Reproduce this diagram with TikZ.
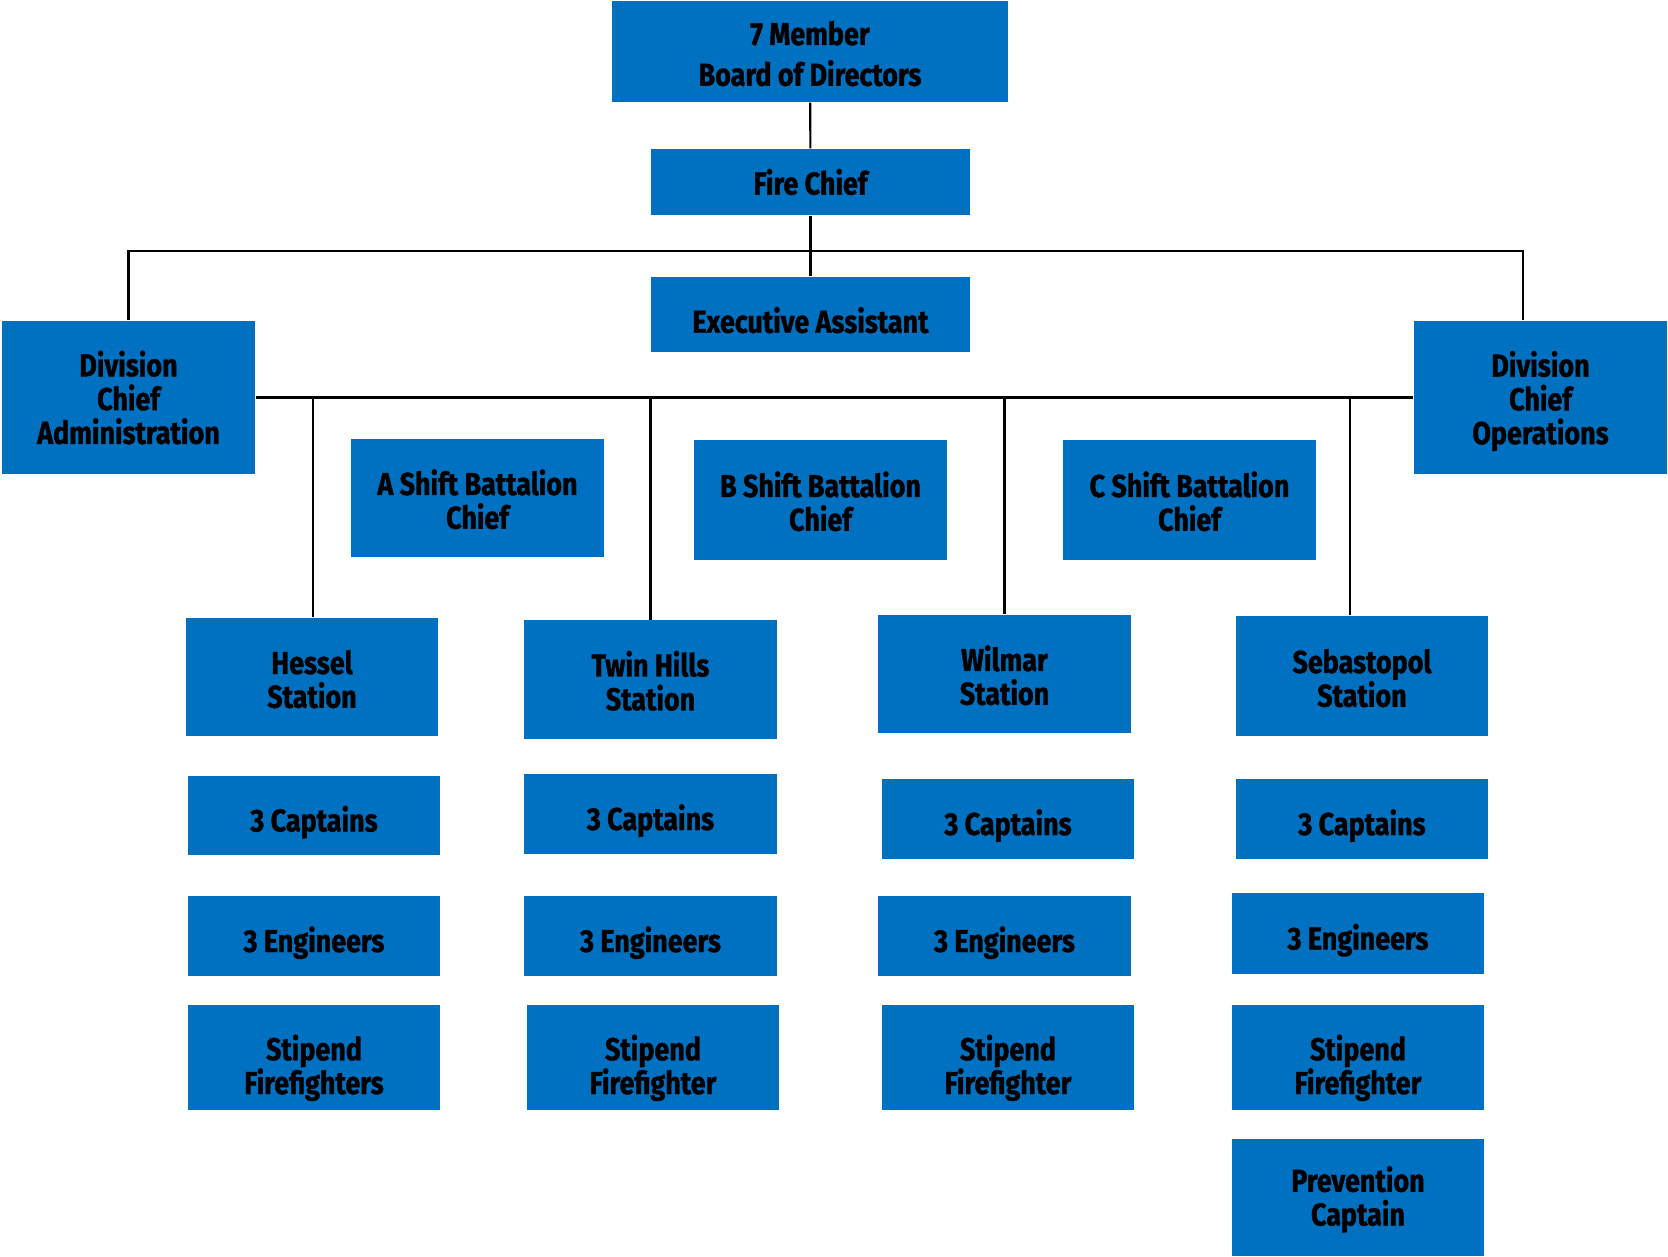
\documentclass[tikz,border=0pt]{standalone}
\usepackage{fontspec}
\setmainfont{Fira Sans}[FakeStretch=0.85, BoldFeatures={FakeBold=1.2}]
\usepackage{tikz}
\usetikzlibrary{positioning, calc}
\definecolor{boxblue}{HTML}{0070C0}

\begin{document}
\begin{tikzpicture}[
    x=0.01cm, y=-0.01cm,
    box/.style={fill=boxblue, text=black, align=center, inner sep=0pt,
        font=\fontsize{9}{9.6}\selectfont\bfseries, minimum width=2.52cm},
    sink/.style={execute at begin node={\rule{0pt}{#1}}},
    cell/.style={box, minimum height=1.18cm, sink=0.62cm},
    rank/.style={box, minimum height=0.79cm, sink=0.39cm},
    stipend/.style={box, minimum height=1.05cm, sink=0.8cm},
    link/.style={line width=0.6pt, draw=black},
]
\useasboundingbox (0,0) rectangle (1668,1257);

% top of the chart
\node[box, minimum width=3.96cm, minimum height=1.01cm, sink=0.69cm] (board) at (810,51.5) {7 Member\\[2pt]Board of Directors};
\node[box, minimum width=3.19cm, minimum height=0.66cm] (fire) at (810.5,182) {Fire Chief};
\node[box, minimum width=3.19cm, minimum height=0.75cm, sink=0.37cm] (exec) at (810.5,314.5) {Executive Assistant};
\node[box, minimum width=2.53cm, minimum height=1.53cm] (divadmin) at (128.5,397.5) {Division\\Chief\\Administration};
\node[box, minimum width=2.53cm, minimum height=1.53cm] (divops) at (1540.5,397.5) {Division\\Chief\\\smash{Operations}};

% battalion chiefs
\node[cell] (ashift) at (477.5,498) {A Shift Battalion\\Chief};
\node[cell, minimum height=1.2cm] (bshift) at (820.5,500) {B Shift Battalion\\Chief};
\node[cell, minimum height=1.2cm] (cshift) at (1189.5,500) {C Shift Battalion\\Chief};

% stations
\node[cell] (hessel) at (312,677) {Hessel\\Station};
\node[cell] (twin) at (650.5,679.5) {Twin Hills\\Station};
\node[cell] (wilmar) at (1004.5,674) {Wilmar\\Station};
\node[cell, minimum height=1.2cm] (sebast) at (1362,676) {Sebastopol\\Station};

% crews
\node[rank] (capA) at (314,815.5) {3 Captains};
\node[rank] (capB) at (650.5,814) {3 Captains};
\node[rank] (capC) at (1008,819) {3 Captains};
\node[rank] (capD) at (1362,819) {3 Captains};
\node[rank, minimum height=0.8cm] (engA) at (314,936) {3 Engineers};
\node[rank, minimum height=0.8cm] (engB) at (650.5,936) {3 Engineers};
\node[rank, minimum height=0.8cm] (engC) at (1004.5,936) {3 Engineers};
\node[rank, minimum height=0.81cm] (engD) at (1358,933.5) {3 Engineers};
\node[stipend] (stipA) at (314,1057.5) {Stipend\\Firefighters};
\node[stipend] (stipB) at (653,1057.5) {Stipend\\Firefighter};
\node[stipend] (stipC) at (1008,1057.5) {Stipend\\Firefighter};
\node[stipend] (stipD) at (1358,1057.5) {Stipend\\Firefighter};
\node[box, minimum height=1.17cm, sink=0.63cm] (prevent) at (1358,1197.5) {Prevention\\Captain};

% connectors
\coordinate (opsjoin) at (1523,251);
\draw[link] (board) -- (fire);
\draw[link] (fire) -- (exec);
\draw[link] (divadmin.north) |- (opsjoin) -- (opsjoin |- divops.north);
\draw[link] (divadmin.east) -- (divops.west);
\draw[link] ([xshift=0.01cm]hessel.north |- divadmin.east) -- ([xshift=0.01cm]hessel.north);
\draw[link] (twin.north |- divadmin.east) -- (twin.north);
\draw[link] (wilmar.north |- divadmin.east) -- (wilmar.north);
\draw[link] ([xshift=-0.12cm]sebast.north |- divadmin.east) -- ([xshift=-0.12cm]sebast.north);
\end{tikzpicture}
\end{document}
